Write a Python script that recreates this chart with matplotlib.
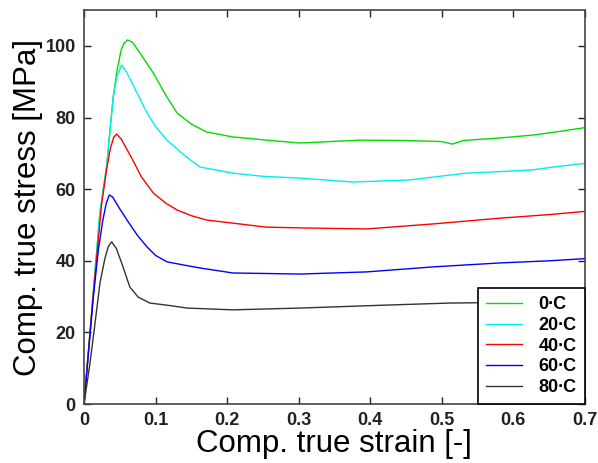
import matplotlib
matplotlib.use("Agg")
import matplotlib.pyplot as plt

plt.rcParams['font.family'] = ['Liberation Sans', 'DejaVu Sans']

labels = ["0\u2219C", "20\u2219C", "40\u2219C", "60\u2219C", "80\u2219C"]
colors = ["#00dd00", "#00eeee", "#ff0000", "#0000ff", "#333333"]

x0 = [0.0, 0.0126, 0.022, 0.032, 0.037, 0.041, 0.046, 0.052, 0.056, 0.061, 0.068, 0.08, 0.097, 0.115, 0.13,
      0.15, 0.171, 0.208, 0.25, 0.302, 0.385, 0.45, 0.5, 0.515, 0.53, 0.581, 0.627, 0.66, 0.7]
y0 = [0.0, 30, 53, 67, 78, 86, 93, 99, 100.8, 101.7, 101.0, 97.5, 92.4, 86, 81.3,
      78.2, 76.0, 74.6, 73.8, 72.9, 73.7, 73.6, 73.3, 72.6, 73.6, 74.3, 75.1, 76.0, 77.2]

x20 = [0.0, 0.0126, 0.022, 0.032, 0.037, 0.041, 0.046, 0.0526, 0.06, 0.075, 0.088, 0.1, 0.116, 0.14, 0.162,
       0.208, 0.25, 0.302, 0.376, 0.455, 0.535, 0.58, 0.627, 0.66, 0.7]
y20 = [0.0, 30, 53, 67, 78, 86, 91.5, 94.7, 92.5, 86.5, 81.3, 77.5, 73.7, 69.5, 66.2,
       64.5, 63.6, 63.1, 62.0, 62.6, 64.5, 64.9, 65.4, 66.3, 67.2]

x40 = [0.0, 0.0126, 0.0247, 0.032, 0.037, 0.0415, 0.0456, 0.052, 0.068, 0.08, 0.097, 0.115, 0.13, 0.15,
       0.171, 0.255, 0.302, 0.395, 0.488, 0.581, 0.65, 0.7]
y40 = [0.0, 30, 56, 66, 71.5, 74.5, 75.4, 74.0, 68.2, 63.5, 58.9, 56, 54.2, 52.6,
       51.4, 49.4, 49.2, 48.9, 50.3, 51.9, 52.9, 53.8]

x60 = [0.0, 0.0126, 0.02, 0.026, 0.031, 0.0354, 0.04, 0.05, 0.06, 0.075, 0.088, 0.1, 0.116, 0.14,
       0.162, 0.208, 0.302, 0.395, 0.488, 0.581, 0.65, 0.7]
y60 = [0.0, 29, 43, 51, 56, 58.4, 57.8, 54.5, 51.4, 47.0, 43.9, 41.5, 39.7, 38.8,
       38.0, 36.6, 36.3, 36.9, 38.3, 39.4, 40.0, 40.6]

x80 = [0.0, 0.0084, 0.0154, 0.0223, 0.029, 0.034, 0.0386, 0.045, 0.0526, 0.064, 0.0754, 0.092,
       0.12, 0.144, 0.208, 0.302, 0.418, 0.511, 0.6, 0.7]
y80 = [0.0, 11.5, 22.6, 33.8, 40.5, 44, 45.3, 43.5, 39.4, 32.7, 29.9, 28.2,
       27.5, 26.8, 26.3, 26.8, 27.6, 28.2, 28.4, 28.6]

xs = [x0, x20, x40, x60, x80]
ys = [y0, y20, y40, y60, y80]

xticks = [0, 0.1, 0.2, 0.3, 0.4, 0.5, 0.6, 0.7]
xticklabels = ["0", "0.1", "0.2", "0.3", "0.4", "0.5", "0.6", "0.7"]
yticks = [0, 20, 40, 60, 80, 100]

fig = plt.figure(figsize=(5.98, 4.63), dpi=100)
ax = fig.add_axes([0.1405, 0.1274, 0.8375, 0.8506])

for x, y, c, l in zip(xs, ys, colors, labels):
    ax.plot(x, y, color=c, lw=1.0, label=l)

ax.set_xlim(0, 0.7)
ax.set_ylim(0, 110)
ax.set_xticks(xticks)
ax.set_xticklabels(xticklabels)
ax.set_yticks(yticks)
ax.tick_params(direction='in', top=True, right=True, length=5, width=1, labelsize=13, pad=6,
               colors='#222222')
for lab in ax.get_xticklabels() + ax.get_yticklabels():
    lab.set_fontweight('bold')
for s in ax.spines.values():
    s.set_color('#444444')
    s.set_linewidth(1.2)

ax.set_xlabel("Comp. true strain [-]", fontsize=22.5, labelpad=0)
ax.set_ylabel("Comp. true stress [MPa]", fontsize=22.5, labelpad=2)

leg = ax.legend(loc='lower right', borderaxespad=0, fancybox=False, framealpha=1,
                edgecolor='black', prop={'size': 13, 'weight': 'bold'},
                handlelength=2.0, labelspacing=0.2, borderpad=0.45, handletextpad=0.9)
leg.get_frame().set_linewidth(1.2)

fig.savefig("out.png", dpi=100)
